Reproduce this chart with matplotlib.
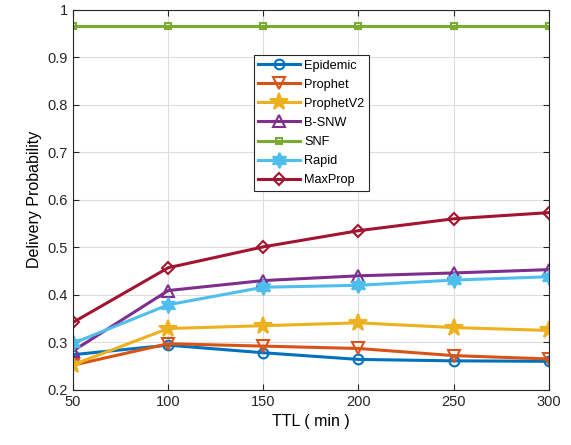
import matplotlib
matplotlib.use("Agg")
import matplotlib.pyplot as plt

plt.rcParams['font.family'] = ['Liberation Sans', 'DejaVu Sans']

ttl = [50, 100, 150, 200, 250, 300]

epidemic = [0.274, 0.294, 0.278, 0.264, 0.261, 0.260]
prophet = [0.252, 0.297, 0.292, 0.287, 0.272, 0.265]
prophetv2 = [0.253, 0.329, 0.335, 0.341, 0.331, 0.325]
bsnw = [0.282, 0.409, 0.430, 0.440, 0.446, 0.453]
snf = [0.965, 0.965, 0.965, 0.965, 0.965, 0.965]
rapid = [0.298, 0.379, 0.416, 0.420, 0.431, 0.438]
maxprop = [0.342, 0.457, 0.501, 0.535, 0.560, 0.573]

names = ["Epidemic", "Prophet", "ProphetV2", "B-SNW", "SNF", "Rapid", "MaxProp"]
series = [epidemic, prophet, prophetv2, bsnw, snf, rapid, maxprop]
colors = ["#0072BD", "#D95319", "#EDB120", "#7E2F8E", "#77AC30", "#4DBEEE", "#A2142F"]
# six-pointed star for Rapid (matlab hexagram)
markers = ["o", "v", "*", "^", "s", (6, 1, 0), "D"]
msizes = [7, 8, 13, 8, 5, 11, 6]
filled = [False, False, True, False, False, True, False]

fig = plt.figure(figsize=(5.71, 4.45), dpi=100)
ax = fig.add_axes([0.128, 0.124, 0.833, 0.854])

for name, y, c, m, ms, f in zip(names, series, colors, markers, msizes, filled):
    ax.plot(ttl, y, color=c, marker=m, markersize=ms,
            markerfacecolor=c if f else "none",
            markeredgewidth=1.5, linewidth=2.2, label=name)

ax.set_xlim(50, 300)
ax.set_ylim(0.2, 1.0)
ax.set_xticks(ttl)
ax.set_yticks([0.2, 0.3, 0.4, 0.5, 0.6, 0.7, 0.8, 0.9, 1.0])
ax.set_yticklabels(["0.2", "0.3", "0.4", "0.5", "0.6", "0.7", "0.8", "0.9", "1"])
ax.grid(True, color="#dddddd", linewidth=0.8)
ax.tick_params(direction="in", labelsize=10.5, length=4, top=True, right=True,
               labeltop=False, labelright=False, colors="#262626")
for s in ax.spines.values():
    s.set_color("#262626")
    s.set_linewidth(0.8)

ax.set_xlabel("TTL ( min )", fontsize=11.5)
ax.set_ylabel("Delivery Probability", fontsize=11.5)

leg = ax.legend(loc="upper left", bbox_to_anchor=(0.38, 0.88), fontsize=9.2,
                fancybox=False, framealpha=1, edgecolor="#262626",
                handlelength=3.3, labelspacing=0.55, borderpad=0.35,
                handletextpad=0.3, borderaxespad=0)
leg.get_frame().set_linewidth(0.8)

fig.savefig("out.png", dpi=100)
